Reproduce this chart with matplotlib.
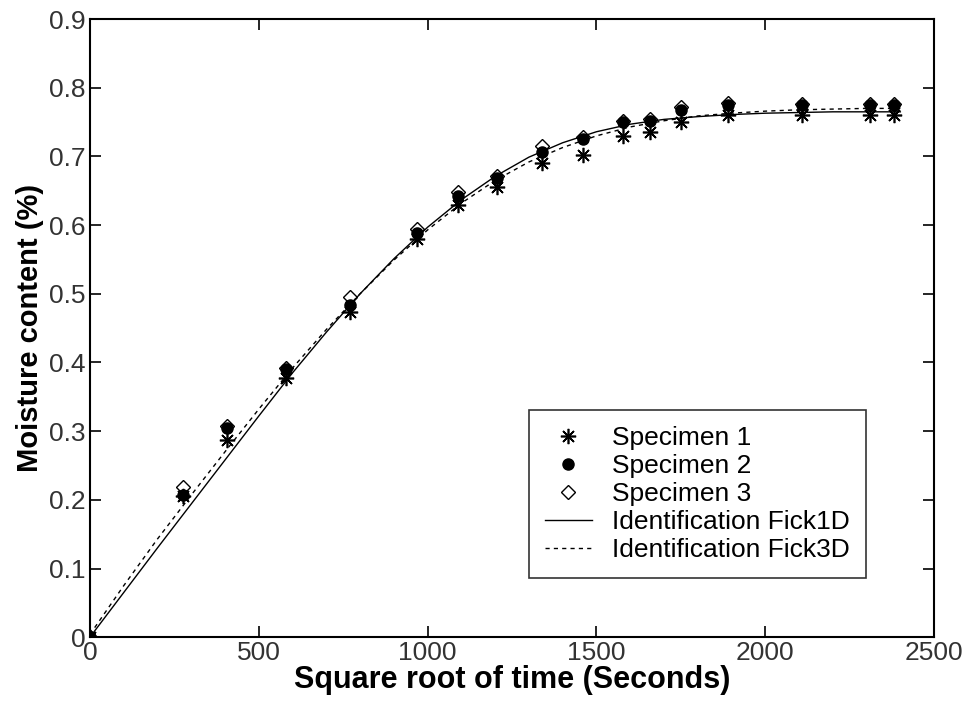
import matplotlib
matplotlib.use("Agg")
import matplotlib.pyplot as plt

plt.rcParams['font.family'] = ['Liberation Sans', 'DejaVu Sans']

# measured points (sqrt time in s, moisture content %)
time_pts = [0, 275, 405, 580, 770, 970, 1090, 1205, 1340, 1460,
            1580, 1660, 1750, 1890, 2110, 2310, 2380]
specimen1 = [0.0, 0.205, 0.287, 0.377, 0.473, 0.580, 0.630, 0.655, 0.690, 0.702,
             0.730, 0.735, 0.750, 0.760, 0.760, 0.760, 0.760]
specimen2 = [0.0, 0.207, 0.305, 0.390, 0.483, 0.588, 0.643, 0.668, 0.706, 0.725,
             0.750, 0.752, 0.768, 0.775, 0.775, 0.775, 0.775]
specimen3 = [0.0, 0.218, 0.308, 0.392, 0.495, 0.594, 0.648, 0.672, 0.715, 0.728,
             0.752, 0.755, 0.772, 0.778, 0.777, 0.777, 0.777]

# identified curves
curve_t = [0, 100, 200, 300, 400, 500, 600, 700, 800, 900, 1000, 1100, 1200,
           1300, 1400, 1500, 1600, 1700, 1800, 1900, 2000, 2100, 2200, 2300, 2400]
fick1d = [0.0, 0.065, 0.130, 0.194, 0.258, 0.322, 0.385, 0.444, 0.500, 0.551,
          0.597, 0.637, 0.671, 0.699, 0.720, 0.736, 0.747, 0.754, 0.758, 0.761,
          0.763, 0.764, 0.765, 0.765, 0.765]
fick3d = [0.004, 0.075, 0.143, 0.207, 0.270, 0.332, 0.392, 0.448, 0.500, 0.549,
          0.593, 0.632, 0.665, 0.692, 0.713, 0.730, 0.743, 0.752, 0.759, 0.763,
          0.766, 0.768, 0.769, 0.770, 0.770]

fig = plt.figure(figsize=(9.67, 7.08), dpi=100)
ax = fig.add_axes([0.093, 0.100, 0.873, 0.873])

ax.plot(time_pts, specimen1, linestyle='none', marker=(8, 2, 0),
        markersize=11, color='black', markeredgewidth=1.2, label='Specimen 1')
ax.plot(time_pts, specimen2, linestyle='none', marker='o',
        markersize=8, color='black', label='Specimen 2')
ax.plot(time_pts, specimen3, linestyle='none', marker='D',
        markersize=7.5, markerfacecolor='none', markeredgecolor='black',
        markeredgewidth=1.0, label='Specimen 3')
ax.plot(curve_t, fick1d, '-', color='black', linewidth=1.0,
        label='Identification Fick1D')
ax.plot(curve_t, fick3d, '--', color='black', linewidth=1.0,
        dashes=(3, 3), label='Identification Fick3D')

ax.set_xlim(0, 2500)
ax.set_ylim(0, 0.9)
ax.set_xticks([0, 500, 1000, 1500, 2000, 2500])
ax.set_yticks([0, 0.1, 0.2, 0.3, 0.4, 0.5, 0.6, 0.7, 0.8, 0.9])
ax.set_yticklabels(['0', '0.1', '0.2', '0.3', '0.4', '0.5', '0.6', '0.7', '0.8', '0.9'])

ax.tick_params(direction='in', length=8, width=1.2, top=True, right=True,
               labelsize=19, colors='black', labelcolor='#333333', pad=3)
for sp in ax.spines.values():
    sp.set_linewidth(1.5)

ax.set_xlabel('Square root of time (Seconds)', fontsize=22, fontweight='bold',
              labelpad=0)
ax.set_ylabel('Moisture content (%)', fontsize=21, fontweight='bold', labelpad=4)

leg = ax.legend(loc='lower left', bbox_to_anchor=(0.520, 0.096), fontsize=19,
                frameon=True, fancybox=False, edgecolor='black',
                handlelength=1.8, labelspacing=0.15, borderpad=0.6,
                handletextpad=0.75, borderaxespad=0)
leg.get_frame().set_linewidth(1.2)

fig.savefig('out.png', dpi=100, facecolor='white')
